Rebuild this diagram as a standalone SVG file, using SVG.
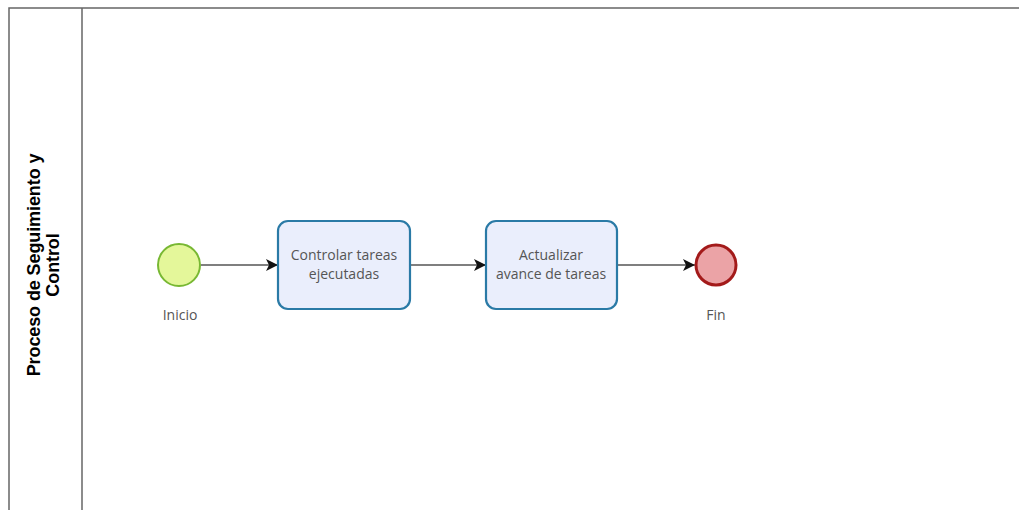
<svg xmlns="http://www.w3.org/2000/svg" width="1019" height="510" viewBox="0 0 1019 510">
<defs>
<style>
.pool{fill:#fff;stroke:#666;stroke-width:1.5}
.task rect{fill:#eaeefc;stroke:#2a7aa6;stroke-width:2.2}
.tt{font-family:"Open Sans","Liberation Sans",sans-serif;font-size:14px;fill:#555;text-anchor:middle}
.flow{stroke:#555;stroke-width:1.5;fill:none;marker-end:url(#arr)}
.lane{font-family:"Liberation Sans",Arial,sans-serif;font-size:18px;font-weight:bold;fill:#000;text-anchor:middle;letter-spacing:-0.1px}
</style>
<marker id="arr" viewBox="0 0 10 10" refX="10" refY="5" markerWidth="12" markerHeight="12" markerUnits="userSpaceOnUse" orient="auto">
<path d="M0,0 L10,5 L0,10 L2.5,5 Z" fill="#111"/>
</marker>
</defs>
<g id="pool">
<rect class="pool" x="9" y="8" width="1030" height="520"/>
<line x1="82" y1="8" x2="82" y2="510" stroke="#666" stroke-width="1.5"/>
<text class="lane" transform="translate(0,265) rotate(-90)"><tspan x="0" y="40">Proceso de Seguimiento y</tspan><tspan x="0" y="59">Control</tspan></text>
</g>
<g id="connectors">
<line class="flow" x1="201" y1="265" x2="278" y2="265"/>
<line class="flow" x1="410" y1="265" x2="486" y2="265"/>
<line class="flow" x1="617" y1="265" x2="695" y2="265"/>
</g>
<g id="start">
<circle cx="179" cy="265" r="21" fill="#e4f79a" stroke="#78b833" stroke-width="2"/>
<text class="tt" x="180" y="320">Inicio</text>
</g>
<g id="task1" class="task">
<rect x="278" y="221" width="132" height="88" rx="10"/>
<text class="tt" x="344" y="260">Controlar tareas</text>
<text class="tt" x="344" y="279">ejecutadas</text>
</g>
<g id="task2" class="task">
<rect x="486" y="221" width="131" height="88" rx="10"/>
<text class="tt" x="551" y="260">Actualizar</text>
<text class="tt" x="551" y="279">avance de tareas</text>
</g>
<g id="end">
<circle cx="716" cy="265" r="20" fill="#eba3a6" stroke="#a31a1a" stroke-width="3"/>
<text class="tt" x="716" y="320">Fin</text>
</g>
</svg>
